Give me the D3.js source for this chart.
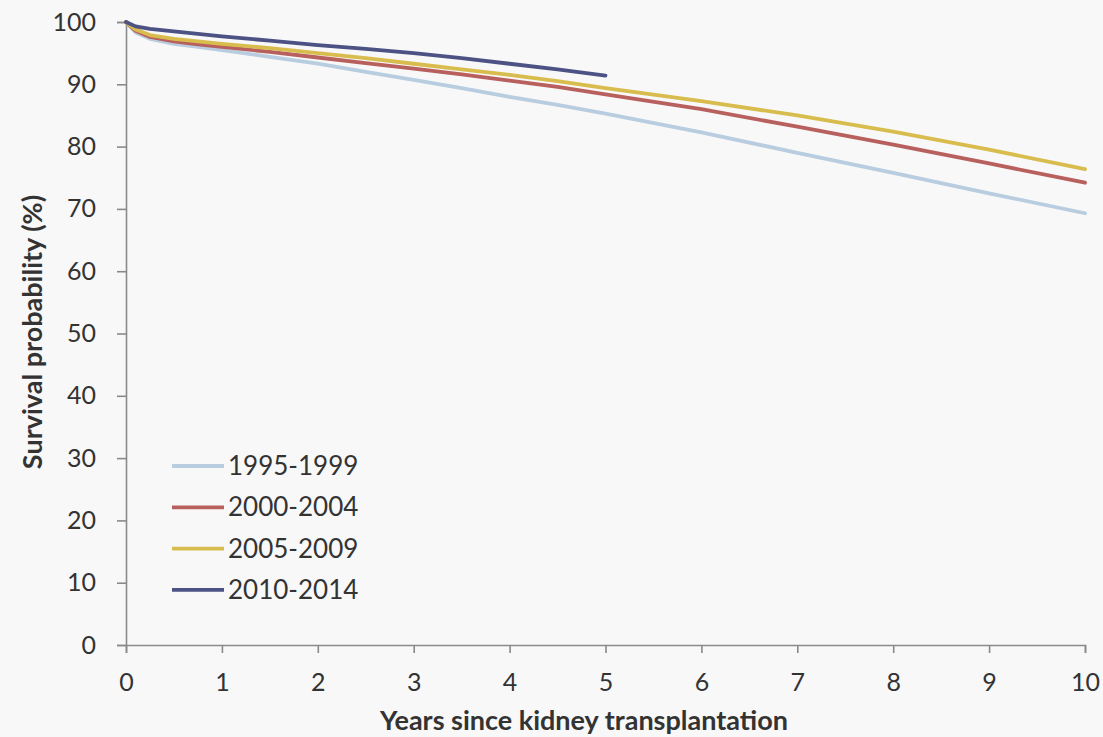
<!DOCTYPE html>
<html>
<head>
<meta charset="utf-8">
<script src="https://cdn.jsdelivr.net/npm/d3@7"></script>
<style>
  html, body { margin: 0; padding: 0; background: #f8f8f8; }
  svg { display: block; }
  text { font-family: Lato, "Open Sans", sans-serif; fill: #333; }
</style>
</head>
<body>
<svg id="chart" width="1103" height="737"></svg>
<script>
// Years after transplant at which survival was recorded
const years = [0, 0.1, 0.25, 0.5, 0.75, 1, 1.5, 2, 2.5, 3, 3.5, 4, 4.5, 5, 6, 7, 8, 9, 10];

// Survival probability (%) by transplant period
const surv1995 = [100, 98.3, 97.3, 96.5, 96.0, 95.5, 94.4, 93.3, 92.0, 90.7, 89.4, 88.0, 86.7, 85.3, 82.3, 79.0, 75.8, 72.5, 69.3];
const surv2000 = [100, 98.6, 97.6, 96.9, 96.4, 96.0, 95.2, 94.3, 93.4, 92.5, 91.6, 90.6, 89.6, 88.4, 86.0, 83.2, 80.3, 77.3, 74.2];
const surv2005 = [100, 98.8, 97.9, 97.3, 96.9, 96.5, 95.8, 95.0, 94.2, 93.3, 92.4, 91.5, 90.5, 89.4, 87.3, 85.0, 82.4, 79.5, 76.4];
const surv2010 = [100, 99.3, 98.9, 98.5, 98.1, 97.7, 97.0, 96.3, 95.7, 95.0, 94.2, 93.3, 92.4, 91.4];

const seriesNames = ["1995-1999", "2000-2004", "2005-2009", "2010-2014"];
const seriesValues = [surv1995, surv2000, surv2005, surv2010];
const seriesColors = ["#b9cde0", "#b8605d", "#d8bd4e", "#4c5283"];

const xTicks = [0, 1, 2, 3, 4, 5, 6, 7, 8, 9, 10];
const yTicks = [0, 10, 20, 30, 40, 50, 60, 70, 80, 90, 100];

const svg = d3.select("#chart");
const plot = { left: 126, right: 1085, top: 22, bottom: 645 };

const x = d3.scaleLinear().domain([0, 10]).range([plot.left, plot.right]);
const y = d3.scaleLinear().domain([0, 100]).range([plot.bottom, plot.top]);

// Axes
const yAxis = svg.append("g")
  .attr("transform", `translate(${plot.left},0)`)
  .call(d3.axisLeft(y).tickValues(yTicks).tickSize(9).tickPadding(21));
const xAxis = svg.append("g")
  .attr("transform", `translate(0,${plot.bottom})`)
  .call(d3.axisBottom(x).tickValues(xTicks).tickSize(8).tickPadding(20));

[xAxis, yAxis].forEach(g => {
  g.select(".domain").attr("stroke", "#8a8a8a").attr("stroke-width", 1.6);
  g.selectAll(".tick line").attr("stroke", "#8a8a8a").attr("stroke-width", 1.6);
  g.selectAll(".tick text")
    .style("font-family", "Lato, 'Open Sans', sans-serif")
    .style("font-size", "25px")
    .style("fill", "#333");
});

// Survival curves
const line = d3.line()
  .x((d, i) => x(years[i]))
  .y(d => y(d));

seriesValues.forEach((vals, i) => {
  svg.append("path")
    .datum(vals)
    .attr("fill", "none")
    .attr("stroke", seriesColors[i])
    .attr("stroke-width", 3.8)
    .attr("stroke-linejoin", "round")
    .attr("stroke-linecap", "round")
    .attr("d", line);
});

// Legend
const legend = svg.append("g");
seriesNames.forEach((name, i) => {
  const ly = 466 + i * 41.3;
  legend.append("line")
    .attr("x1", 172).attr("x2", 224)
    .attr("y1", ly).attr("y2", ly)
    .attr("stroke", seriesColors[i])
    .attr("stroke-width", 3.8);
  legend.append("text")
    .attr("x", 228).attr("y", ly)
    .attr("dy", "0.35em")
    .style("font-size", "26px")
    .text(name);
});

// Axis titles
svg.append("text")
  .attr("x", 584).attr("y", 730)
  .attr("text-anchor", "middle")
  .style("font-size", "27px")
  .style("font-weight", "bold")
  .text("Years since kidney transplantation");

svg.append("text")
  .attr("transform", "translate(42,332) rotate(-90)")
  .attr("text-anchor", "middle")
  .style("font-size", "27px")
  .style("font-weight", "bold")
  .text("Survival probability (%)");
</script>
</body>
</html>
